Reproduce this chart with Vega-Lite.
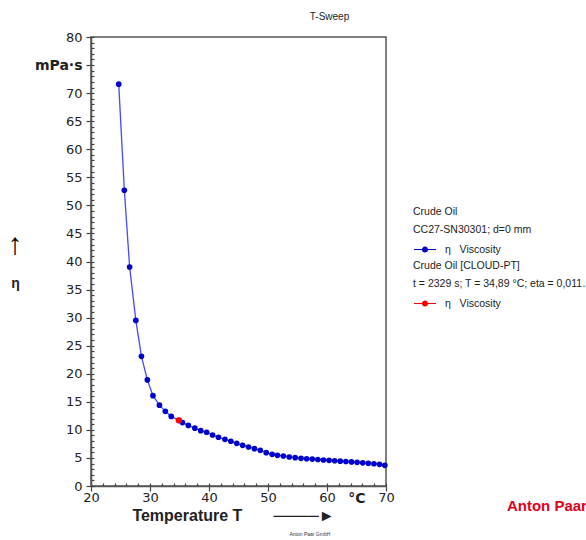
{
  "$schema": "https://vega.github.io/schema/vega-lite/v6.json",
  "autosize": {"type": "none"},
  "padding": {"left": 91, "top": 37, "right": 200, "bottom": 54},
  "width": 295,
  "height": 449,
  "background": "white",
  "title": {"text": "T-Sweep", "fontSize": 10, "fontWeight": "normal", "font": "Liberation Sans", "color": "#222", "anchor": "middle", "dx": 91, "offset": 9},
  "config": {
    "font": "Liberation Sans",
    "view": {"stroke": "#555", "strokeWidth": 1.5},
    "axis": {"labelOverlap": false, "labelFlush": false, "labelBound": false, "grid": false},
    "legend": {"titleFont": "Liberation Sans", "titleFontSize": 10.5, "titleFontWeight": "normal", "titleColor": "#222", "titleLineHeight": 18, "titlePadding": 2, "labelFont": "Liberation Sans", "labelFontSize": 10.5, "labelColor": "#222", "padding": 0, "labelOffset": 8}
  },
  "data": {"values": [
    {"T": 24.7, "eta": 71.6, "s": "Crude Oil"},
    {"T": 25.65, "eta": 52.7, "s": "Crude Oil"},
    {"T": 26.55, "eta": 39.0, "s": "Crude Oil"},
    {"T": 27.6, "eta": 29.5, "s": "Crude Oil"},
    {"T": 28.55, "eta": 23.1, "s": "Crude Oil"},
    {"T": 29.55, "eta": 18.9, "s": "Crude Oil"},
    {"T": 30.5, "eta": 16.1, "s": "Crude Oil"},
    {"T": 31.6, "eta": 14.4, "s": "Crude Oil"},
    {"T": 32.6, "eta": 13.3, "s": "Crude Oil"},
    {"T": 33.6, "eta": 12.4, "s": "Crude Oil"},
    {"T": 34.89, "eta": 11.7, "s": "Crude Oil"},
    {"T": 35.5, "eta": 11.3, "s": "Crude Oil"},
    {"T": 36.5, "eta": 10.8, "s": "Crude Oil"},
    {"T": 37.6, "eta": 10.3, "s": "Crude Oil"},
    {"T": 38.6, "eta": 9.86, "s": "Crude Oil"},
    {"T": 39.6, "eta": 9.57, "s": "Crude Oil"},
    {"T": 40.6, "eta": 9.09, "s": "Crude Oil"},
    {"T": 41.6, "eta": 8.68, "s": "Crude Oil"},
    {"T": 42.7, "eta": 8.32, "s": "Crude Oil"},
    {"T": 43.7, "eta": 7.97, "s": "Crude Oil"},
    {"T": 44.7, "eta": 7.6, "s": "Crude Oil"},
    {"T": 45.7, "eta": 7.25, "s": "Crude Oil"},
    {"T": 46.7, "eta": 6.95, "s": "Crude Oil"},
    {"T": 47.7, "eta": 6.65, "s": "Crude Oil"},
    {"T": 48.7, "eta": 6.35, "s": "Crude Oil"},
    {"T": 49.7, "eta": 5.94, "s": "Crude Oil"},
    {"T": 50.7, "eta": 5.64, "s": "Crude Oil"},
    {"T": 51.6, "eta": 5.46, "s": "Crude Oil"},
    {"T": 52.6, "eta": 5.35, "s": "Crude Oil"},
    {"T": 53.6, "eta": 5.17, "s": "Crude Oil"},
    {"T": 54.6, "eta": 5.05, "s": "Crude Oil"},
    {"T": 55.6, "eta": 4.93, "s": "Crude Oil"},
    {"T": 56.55, "eta": 4.86, "s": "Crude Oil"},
    {"T": 57.5, "eta": 4.79, "s": "Crude Oil"},
    {"T": 58.45, "eta": 4.72, "s": "Crude Oil"},
    {"T": 59.4, "eta": 4.64, "s": "Crude Oil"},
    {"T": 60.35, "eta": 4.57, "s": "Crude Oil"},
    {"T": 61.3, "eta": 4.5, "s": "Crude Oil"},
    {"T": 62.25, "eta": 4.43, "s": "Crude Oil"},
    {"T": 63.2, "eta": 4.36, "s": "Crude Oil"},
    {"T": 64.15, "eta": 4.29, "s": "Crude Oil"},
    {"T": 65.1, "eta": 4.21, "s": "Crude Oil"},
    {"T": 66.05, "eta": 4.13, "s": "Crude Oil"},
    {"T": 67.0, "eta": 4.05, "s": "Crude Oil"},
    {"T": 67.95, "eta": 3.97, "s": "Crude Oil"},
    {"T": 68.9, "eta": 3.86, "s": "Crude Oil"},
    {"T": 69.8, "eta": 3.68, "s": "Crude Oil"},
    {"T": 34.89, "eta": 11.7, "s": "Crude Oil [CLOUD-PT]"}
  ]},
  "layer": [
    {
      "transform": [{"filter": "datum.s == 'Crude Oil'"}],
      "mark": {"type": "line", "color": "#4848ff", "strokeWidth": 1.3},
      "encoding": {
        "x": {"field": "T", "type": "quantitative", "scale": {"domain": [20, 70], "nice": false, "zero": false},
          "axis": {
            "orient": "bottom",
            "values": [20, 30, 40, 50, 60, 65, 70],
            "labelExpr": "datum.value == 65 ? '°C' : datum.label",
            "labelFontWeight": {"condition": {"test": "datum.value == 65", "value": "bold"}, "value": "normal"},
            "labelFontSize": {"condition": {"test": "datum.value == 65", "value": 14}, "value": 13},
            "tickOpacity": {"condition": {"test": "datum.value == 65", "value": 0}, "value": 1},
            "labelFont": "DejaVu Sans", "labelColor": "#222", "labelPadding": 0,
            "tickSize": 5, "tickColor": "#444", "tickWidth": 1.2, "domainColor": "#555", "domainWidth": 1.5,
            "title": "Temperature T\u00a0\u00a0\u00a0\u00a0\u00a0\u00a0\u00a0────►",
            "titleFontSize": 16, "titleFontWeight": "bold", "titleColor": "#222",
            "titleX": 142, "titleY": 21, "titleBaseline": "top"
          }
        },
        "y": {"field": "eta", "type": "quantitative", "scale": {"domain": [0, 80], "nice": false},
          "axis": {
            "orient": "left",
            "values": [0, 5, 10, 15, 20, 25, 30, 35, 40, 45, 50, 55, 60, 65, 70, 75, 80],
            "labelExpr": "datum.value == 75 ? 'mPa·s' : datum.label",
            "labelFontWeight": {"condition": {"test": "datum.value == 75", "value": "bold"}, "value": "normal"},
            "labelFontSize": {"condition": {"test": "datum.value == 75", "value": 14}, "value": 13},
            "labelFont": "DejaVu Sans", "labelColor": "#222", "labelPadding": 4,
            "tickSize": 5, "tickColor": "#444", "tickWidth": 1.2, "domainColor": "#555", "domainWidth": 1.5,
            "title": "η", "titleAngle": 0, "titleFontSize": 14, "titleFontWeight": "bold", "titleColor": "#222",
            "titleX": -76, "titleY": 246, "titleAlign": "center", "titleBaseline": "middle"
          }
        }
      }
    },
    {
      "transform": [{"filter": "datum.s == 'Crude Oil'"}],
      "mark": {"type": "circle", "size": 32, "opacity": 1},
      "encoding": {
        "x": {"field": "T", "type": "quantitative",
          "axis": {"orient": "bottom", "values": [20,22,24,26,28,30,32,34,36,38,40,42,44,46,48,50,52,54,56,58,60,62,64,66,68,70],
            "labels": false, "domain": false, "tickSize": -3, "tickColor": "#444", "tickWidth": 1.2, "title": null}},
        "y": {"field": "eta", "type": "quantitative",
          "axis": {"orient": "left", "values": [0,1,2,3,4,5,6,7,8,9,10,11,12,13,14,15,16,17,18,19,20,21,22,23,24,25,26,27,28,29,30,31,32,33,34,35,36,37,38,39,40,41,42,43,44,45,46,47,48,49,50,51,52,53,54,55,56,57,58,59,60,61,62,63,64,65,66,67,68,69,70,71,72,73,74,75,76,77,78,79,80],
            "labels": false, "domain": false, "tickSize": -3, "tickColor": "#444", "tickWidth": 1.2, "title": null}},
        "color": {"field": "s", "type": "nominal", "scale": {"domain": ["Crude Oil"], "range": ["#0000c8"]},
          "legend": {"orient": "none", "legendX": 322, "legendY": 170, "title": ["Crude Oil", "CC27-SN30301; d=0 mm"],
            "labelExpr": "'η\u00a0\u00a0\u00a0Viscosity'",
            "symbolType": "M-1,-0.05H1V0.05H-1ZM-0.28,0A0.28,0.28,0,1,1,0.28,0A0.28,0.28,0,1,1,-0.28,0Z",
            "symbolSize": 484
          }
        }
      }
    },
    {
      "transform": [{"filter": "datum.s == 'Crude Oil [CLOUD-PT]'"}],
      "mark": {"type": "circle", "size": 40, "opacity": 1},
      "encoding": {
        "x": {"field": "T", "type": "quantitative", "axis": null},
        "y": {"field": "eta", "type": "quantitative", "axis": null},
        "color": {"field": "s", "type": "nominal", "scale": {"domain": ["Crude Oil [CLOUD-PT]"], "range": ["#ff0000"]},
          "legend": {"orient": "none", "legendX": 322, "legendY": 224, "title": ["Crude Oil [CLOUD-PT]", "t = 2329 s; T = 34,89 °C; eta = 0,0117 Pa·s"],
            "labelExpr": "'η\u00a0\u00a0\u00a0Viscosity'",
            "symbolType": "M-1,-0.05H1V0.05H-1ZM-0.28,0A0.28,0.28,0,1,1,0.28,0A0.28,0.28,0,1,1,-0.28,0Z",
            "symbolSize": 484
          }
        }
      }
    },
    {
      "data": {"values": [{"label": "↑"}]},
      "mark": {"type": "text", "align": "center", "baseline": "middle", "fontSize": 30, "fontWeight": "bold", "color": "#000", "font": "Liberation Sans"},
      "encoding": {
        "x": {"datum": 7.1, "type": "quantitative", "axis": null},
        "y": {"datum": 43.0, "type": "quantitative", "axis": null},
        "text": {"field": "label"}
      }
    },
    {
      "data": {"values": [{"label": "Anton Paar"}]},
      "mark": {"type": "text", "align": "left", "baseline": "middle", "fontSize": 15, "fontWeight": "bold", "color": "#e2001a", "font": "Liberation Sans"},
      "encoding": {
        "x": {"datum": 90.5, "type": "quantitative", "axis": null},
        "y": {"datum": -3.56, "type": "quantitative", "axis": null},
        "text": {"field": "label"}
      }
    },
    {
      "data": {"values": [{"label": "Anton Paar GmbH"}]},
      "mark": {"type": "text", "align": "center", "baseline": "middle", "fontSize": 5, "color": "#333", "font": "Liberation Sans"},
      "encoding": {
        "x": {"datum": 57.1, "type": "quantitative", "axis": null},
        "y": {"datum": -8.5, "type": "quantitative", "axis": null},
        "text": {"field": "label"}
      }
    }
  ],
  "resolve": {"scale": {"color": "independent"}, "axis": {"x": "independent", "y": "independent"}}
}
